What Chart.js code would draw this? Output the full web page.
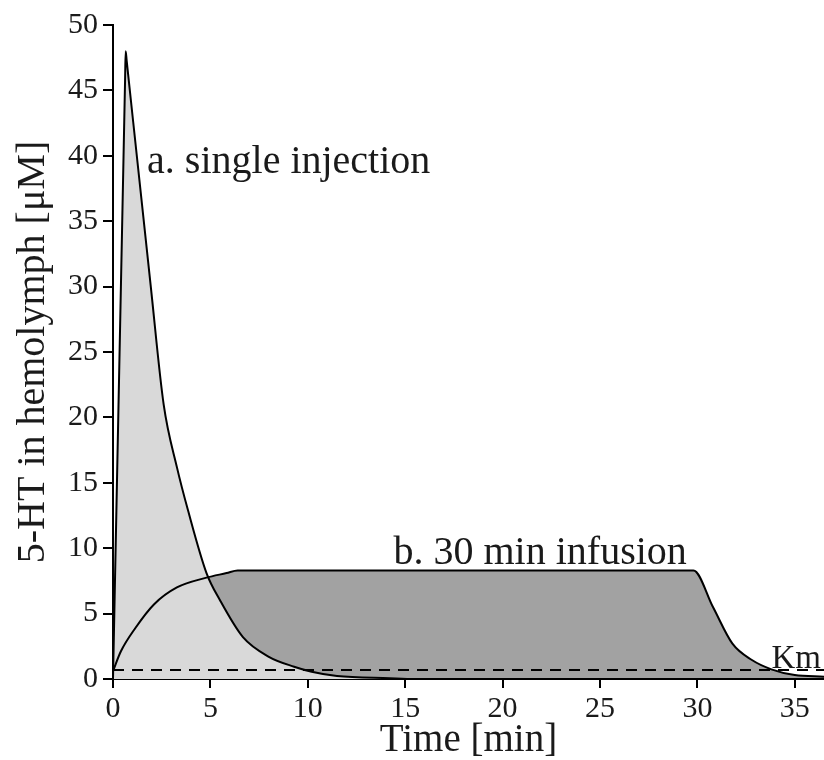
<!DOCTYPE html>
<html>
<head>
<meta charset="utf-8">
<script src="https://cdn.jsdelivr.net/npm/chart.js@4"></script>
<style>
  body { margin: 0; background: #fff; }
  #chartHT { display: block; }
</style>
</head>
<body>
<canvas id="chartHT" width="824" height="760"></canvas>
<script>
//----Datos
const injectionTime = [0, 0.62, 0.65, 0.7, 1.94, 2.6, 3.28, 3.85, 4.8, 5.5, 6.67, 8.0, 9.3, 10.2, 11.5, 14.2, 15.5, 36.5];
const injectionConc = [0, 45.8, 48, 47.3, 30, 21, 16.2, 12.9, 8.1, 6.0, 3.2, 1.7, 0.94, 0.56, 0.23, 0.06, 0, 0];

const infusionTime = [0, 0.4, 1.15, 2.1, 3.28, 4.8, 5.83, 6.4, 15, 29.8, 30.8, 31.8, 32.8, 33.8, 35.0, 36.5];
const infusionConc = [0.6, 2.1, 3.9, 5.7, 7.0, 7.75, 8.1, 8.3, 8.3, 8.3, 5.5, 2.7, 1.45, 0.74, 0.3, 0.18];

const kmTime = [0, 36.5];
const kmConc = [0.68, 0.68];

const labelTexts = ["a. single injection", "b. 30 min infusion", "Km"];
const labelX = [1.75, 14.4, 33.8];
const labelY = [39.5, 9.6, 1.5];

const serif = "'Liberation Serif', 'DejaVu Serif', serif";
const ink = "#1a1a1a";

function toPoints(xs, ys) {
    return xs.map((x, i) => ({ x: x, y: ys[i] }));
}

// etiquetas de texto dentro del grafico
const textoCurvas = {
    id: "textoCurvas",
    afterDatasetsDraw(chart) {
        const ctx = chart.ctx;
        const sx = chart.scales.x, sy = chart.scales.y;
        ctx.save();
        ctx.fillStyle = ink;
        ctx.textBaseline = "middle";
        ctx.textAlign = "left";
        labelTexts.forEach((t, i) => {
            ctx.font = (i == 2 ? "33px " : "40px ") + serif;
            ctx.fillText(t, sx.getPixelForValue(labelX[i]), sy.getPixelForValue(labelY[i]));
        });
        ctx.restore();
    }
};

new Chart(document.getElementById("chartHT"), {
    type: "line",
    data: {
        datasets: [{
            label: "a. single injection",
            data: toPoints(injectionTime, injectionConc),
            borderColor: "#000",
            borderWidth: 2,
            backgroundColor: "#d9d9d9",
            fill: "origin",
            pointRadius: 0,
            cubicInterpolationMode: "monotone"
        }, {
            label: "b. 30 min infusion",
            data: toPoints(infusionTime, infusionConc),
            borderColor: "#000",
            borderWidth: 2,
            backgroundColor: "#a2a2a2",
            fill: "origin",
            pointRadius: 0,
            cubicInterpolationMode: "monotone"
        }, {
            label: "Km",
            data: toPoints(kmTime, kmConc),
            borderColor: "#000",
            borderWidth: 2,
            borderDash: [11, 8],
            fill: false,
            pointRadius: 0
        }]
    },
    options: {
        responsive: false,
        animation: false,
        layout: { padding: { top: 25, left: 0, right: 0, bottom: 0 } },
        plugins: {
            legend: { display: false },
            tooltip: { enabled: false },
            filler: { drawTime: "beforeDatasetsDraw" }
        },
        scales: {
            x: {
                type: "linear",
                min: 0,
                max: 36.5,
                border: { display: true, color: "#000", width: 2 },
                grid: { drawOnChartArea: false, drawTicks: true, tickLength: 9, color: "#000", lineWidth: 2 },
                ticks: { stepSize: 5, includeBounds: false, padding: 3, color: ink, font: { family: serif, size: 30 } },
                title: { display: true, text: "Time [min]", color: ink, padding: 0, font: { family: serif, size: 39, lineHeight: 1 } },
                afterFit: function (scale) { scale.height = 81; }
            },
            y: {
                min: 0,
                max: 50,
                border: { display: true, color: "#000", width: 2 },
                grid: { drawOnChartArea: false, drawTicks: true, tickLength: 10, color: "#000", lineWidth: 2 },
                ticks: { stepSize: 5, padding: 5, color: ink, font: { family: serif, size: 30 } },
                title: { display: true, text: "5-HT in hemolymph [μM]", color: ink, padding: { top: 13, bottom: 0 }, font: { family: serif, size: 40, lineHeight: 1 } },
                afterFit: function (scale) { scale.width = 113; }
            }
        }
    },
    plugins: [textoCurvas]
});
</script>
</body>
</html>
